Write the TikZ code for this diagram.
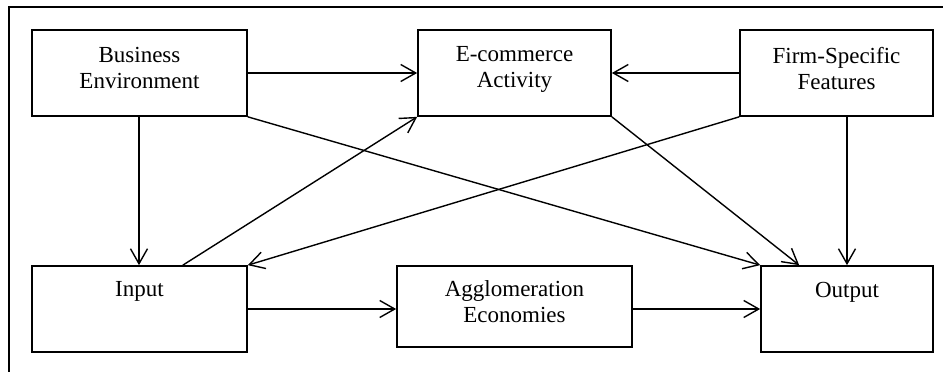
\documentclass[tikz,border=0pt]{standalone}
\usepackage{fontspec}
\setmainfont{Liberation Serif}
\usetikzlibrary{arrows.meta}
\begin{document}
\begin{tikzpicture}[x=1pt,y=-1pt,
  box/.style={draw, line width=1.7pt, rectangle, inner sep=0pt},
  lbl/.style={anchor=north, align=center, inner sep=0pt,
    font=\fontsize{23}{26}\selectfont},
  link/.style={line width=1.4pt,
    -{Straight Barb[length=15pt,width=17pt,line width=1.4pt]}},
  frame/.style={line width=1.6pt}]
  \useasboundingbox (0,0) rectangle (943,372);

  % open frame: top and left edges only
  \coordinate (fr-tr) at (943,7);
  \coordinate (fr-tl) at (9,7);
  \coordinate (fr-bl) at (9,372);
  \draw[frame] (fr-tr) -- (fr-tl) -- (fr-bl);

  % boxes
  \node[box, minimum width=215pt, minimum height=86pt] (be)  at (139.5,73) {};
  \node[box, minimum width=193pt, minimum height=86pt] (ec)  at (514.5,73) {};
  \node[box, minimum width=193pt, minimum height=86pt] (ff)  at (836.5,73) {};
  \node[box, minimum width=215pt, minimum height=86pt] (inp) at (139.5,309) {};
  \node[box, minimum width=235pt, minimum height=81pt] (agg) at (514.5,306.5) {};
  \node[box, minimum width=172pt, minimum height=86pt] (out) at (847,309) {};

  % labels, set near the top of each box
  \node[lbl] (be-t)  at ([yshift=-17.5pt]be.north)  {Business\\Environment};
  \node[lbl] (ec-t)  at ([yshift=-17.5pt]ec.north)  {E-commerce\\Activity};
  \node[lbl] (ff-t)  at ([yshift=-17.5pt]ff.north)  {Firm-Specific\\Features};
  \node[lbl] (inp-t) at ([yshift=-16.5pt]inp.north) {Input};
  \node[lbl] (agg-t) at ([yshift=-15pt]agg.north)   {Agglomeration\\Economies};
  \node[lbl] (out-t) at ([yshift=-16.5pt]out.north) {Output};

  % connectors
  \draw[link] (be.east) -- (ec.west);
  \draw[link] (ff.west) -- (ec.east);
  \draw[link] ([xshift=-0.5pt]be.south) -- ([xshift=-0.5pt]inp.north);
  \draw[link] (ff.south -| out.north) -- (out.north);
  \draw[link] (be.south east) -- (out.north west);
  \draw[link] (ec.south east) -- ([xshift=39pt]out.north west);
  \draw[link] (ff.south west) -- (inp.north east);
  \draw[link] ([xshift=-65pt]inp.north east) -- (ec.south west);
  \draw[link] (inp.east) -- (inp.east -| agg.west);
  \draw[link] (agg.east |- out.west) -- (out.west);
\end{tikzpicture}
\end{document}
